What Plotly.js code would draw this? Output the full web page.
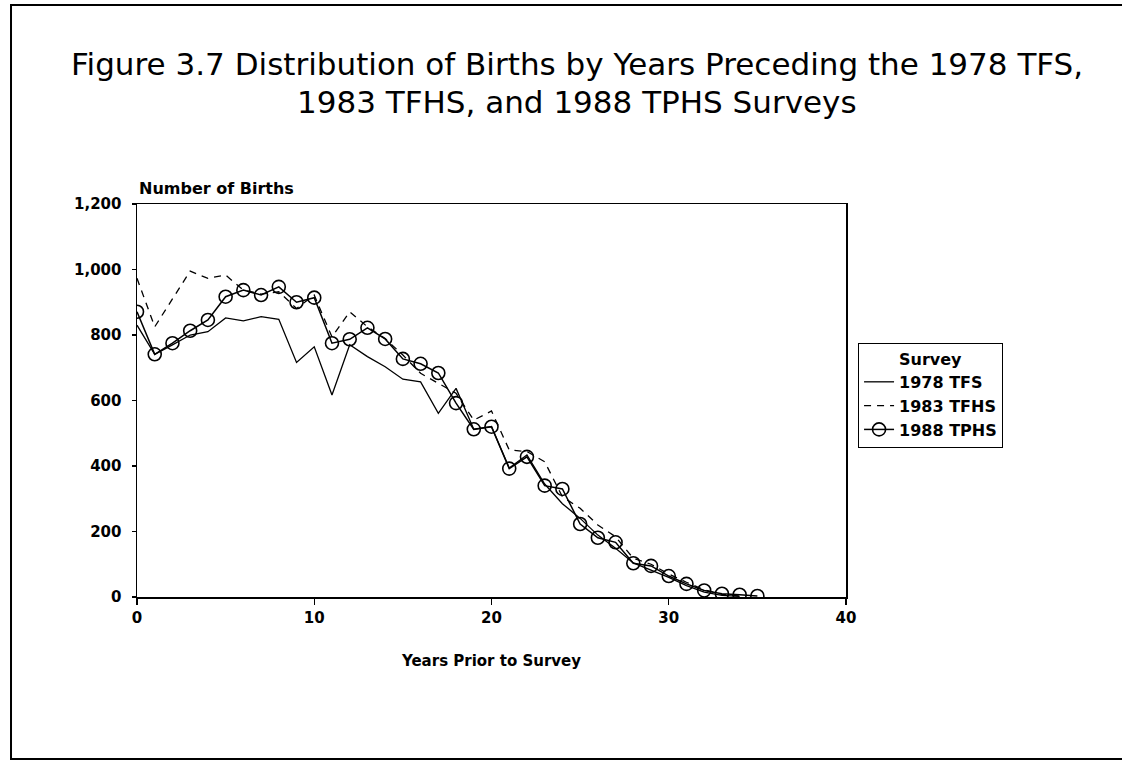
<!DOCTYPE html>
<html>
<head>
<meta charset="utf-8">
<script src="https://cdn.plot.ly/plotly-3.0.1.min.js"></script>
<style>html,body{margin:0;padding:0;background:#fff;}#chart{width:1122px;height:764px;}</style>
</head>
<body>
<div id="chart"></div>
<script>
const yearsTPHS = [0,1,2,3,4,5,6,7,8,9,10,11,12,13,14,15,16,17,18,19,20,21,22,23,24,25,26,27,28,29,30,31,32,33,34,35];
const births1988 = [871,741,775,813,846,917,937,922,947,900,914,775,787,822,788,727,712,684,592,512,520,392,428,340,330,223,181,167,103,95,64,40,20,10,7,3];

const yearsTFS = [0,1,2,3,4,5,6,7,8,9,10,11,12,13,14,15,16,17,18,19,20,21,22,23,24,25,26,27,28,29,30,31,32,33,34];
const births1978 = [830,741,770,800,810,852,843,856,848,716,764,617,770,734,703,665,657,561,637,512,520,394,434,345,285,240,189,149,104,82,60,35,15,5,2];

const yearsTFHS = [0,1,2,3,4,5,6,7,8,9,10,11,12,13,14,15,16,17,18,19,20,21,22,23,24,25,26,27,28,29,30,31,32,33,34];
const births1983 = [973,825,910,995,973,983,937,925,932,881,922,794,871,825,789,739,683,652,622,540,568,449,444,413,306,271,220,184,118,100,70,45,22,8,3];

const seriesNames = ["1978 TFS", "1983 TFHS", "1988 TPHS"];
const xTicks = [0,10,20,30,40];
const yTicks = [0,200,400,600,800,1000,1200];
const titleLines = ["Figure 3.7 Distribution of Births by Years Preceding the 1978 TFS,", "1983 TFHS, and 1988 TPHS Surveys"];

const FONT = "DejaVu Sans, Verdana, sans-serif";

const traces = [
  {x: yearsTFS, y: births1978, name: seriesNames[0], mode: "lines", type: "scatter",
   line: {color: "#000", width: 1.3}},
  {x: yearsTFHS, y: births1983, name: seriesNames[1], mode: "lines", type: "scatter",
   line: {color: "#000", width: 1.3, dash: "7px,6px"}},
  {x: yearsTPHS, y: births1988, name: seriesNames[2], mode: "lines+markers", type: "scatter",
   line: {color: "#000", width: 1.5},
   marker: {symbol: "circle-open", size: 13, color: "#000", line: {width: 1.6, color: "#000"}}}
];

const layout = {
  width: 1122, height: 764,
  paper_bgcolor: "#fff", plot_bgcolor: "#fff",
  margin: {l: 137, r: 276, t: 204, b: 167, pad: 0},
  font: {family: FONT, color: "#000", size: 16},
  xaxis: {
    range: [0, 40], tickvals: xTicks, ticks: "outside", ticklen: 6, tickwidth: 1.2, tickcolor: "#000",
    showline: true, linecolor: "#000", linewidth: 1.5, mirror: true, showgrid: false, zeroline: false,
    tickfont: {family: FONT, size: 15, weight: "bold"},
    title: {text: "Years Prior to Survey", font: {family: FONT, size: 15, weight: "bold"}, standoff: 30}
  },
  yaxis: {
    range: [0, 1200], tickvals: yTicks, tickformat: ",d", ticks: "outside", ticklen: 4, tickwidth: 1.2, tickcolor: "#000",
    ticklabelstandoff: 7,
    showline: true, linecolor: "#000", linewidth: 1.5, mirror: true, showgrid: false, zeroline: false,
    tickfont: {family: FONT, size: 15, weight: "bold"}
  },
  showlegend: true,
  legend: {
    x: 1.017, y: 0.646, xanchor: "left", yanchor: "top",
    bordercolor: "#000", borderwidth: 1, bgcolor: "#fff",
    font: {family: FONT, size: 16, weight: "bold", color: "#000"},
    title: {text: "Survey", side: "top center", font: {family: FONT, size: 16, weight: "bold"}},
    itemwidth: 30, tracegroupgap: 0
  },
  annotations: [
    {text: "Number of Births", xref: "paper", yref: "paper", x: 0, y: 1, xanchor: "left", yanchor: "bottom",
     yshift: 4, showarrow: false, font: {family: FONT, size: 16, weight: "bold"}},
    {text: titleLines[0], xref: "paper", yref: "paper", x: (577 - 137) / 709, y: (597 - 64) / 393,
     xanchor: "center", yanchor: "middle", showarrow: false, font: {family: FONT, size: 31}},
    {text: titleLines[1], xref: "paper", yref: "paper", x: (577 - 137) / 709, y: (597 - 102) / 393,
     xanchor: "center", yanchor: "middle", showarrow: false, font: {family: FONT, size: 31}}
  ],
  shapes: [
    {type: "rect", xref: "paper", yref: "paper", x0: -0.1777, x1: 1.405, y0: -0.4122, y1: 1.5064,
     line: {color: "#000", width: 2}, fillcolor: "rgba(0,0,0,0)", layer: "below"}
  ]
};

Plotly.newPlot("chart", traces, layout, {staticPlot: true, displayModeBar: false});
</script>
</body>
</html>
